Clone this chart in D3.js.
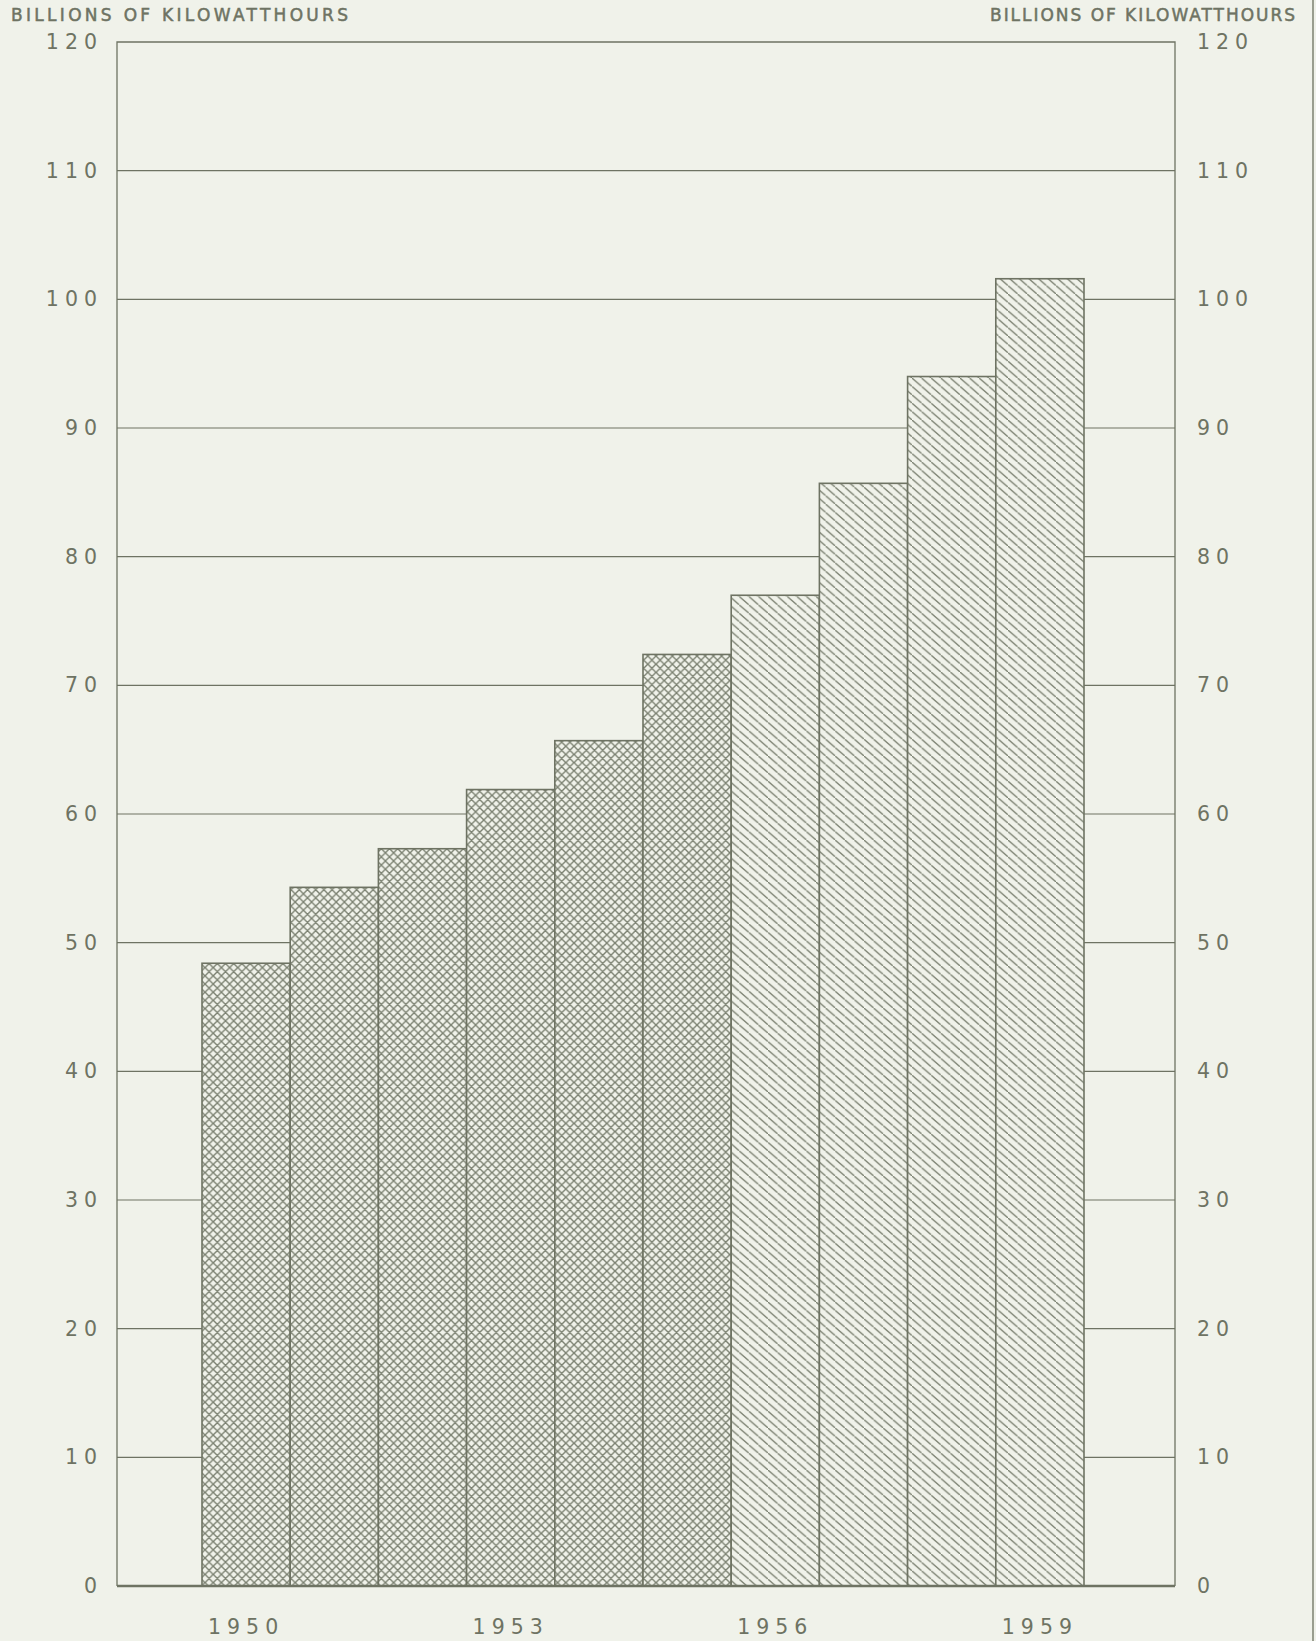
<!DOCTYPE html>
<html><head><meta charset="utf-8">
<script src="https://cdnjs.cloudflare.com/ajax/libs/d3/7.8.5/d3.min.js"></script>
<style>
body{margin:0;background:#f0f2ea;}
svg{display:block;}
</style></head><body>
<svg id="chart"></svg>
<script>
// billions of kWh by year; years after lastActual drawn with single hatch
var years=[1950,1951,1952,1953,1954,1955,1956,1957,1958,1959];
var values=[48.4,54.3,57.3,61.9,65.7,72.4,77.0,85.7,94.0,101.6];
var lastActual=1955;
var yTicks=[0,10,20,30,40,50,60,70,80,90,100,110,120];
var yearLabels=[1950,1953,1956,1959];
var unitLabel='BILLIONS OF KILOWATTHOURS';

var W=1316,H=1641,ink='#6e7363',hatch='#7a8070',bg='#f0f2ea';
var plot={left:117,right:1175,top:42,bottom:1586};
var svg=d3.select('#chart').attr('width',W).attr('height',H);
svg.append('rect').attr('width',W).attr('height',H).attr('fill',bg);

var x=d3.scaleBand().domain(years).range([202,1084]).padding(0);
var y=d3.scaleLinear().domain([0,120]).range([plot.bottom,plot.top]);

var defs=svg.append('defs');
// crosshatch, square cells
var c=8.2;
var p1=defs.append('pattern').attr('id','cross').attr('patternUnits','userSpaceOnUse')
   .attr('width',c).attr('height',c);
p1.append('rect').attr('width',c).attr('height',c).attr('fill',bg);
p1.append('path').attr('d',`M0,0L${c},${c}M-1,${c-1}L1,${c+1}M${c-1},-1L${c+1},1`+
   `M0,${c}L${c},0M-1,1L1,-1M${c-1},${c+1}L${c+1},${c-1}`)
   .attr('stroke',hatch).attr('stroke-width',1.35);
// single hatch, a little shallower than 45 degrees
var hw=9.6,hh=8.4;
var p2=defs.append('pattern').attr('id','single').attr('patternUnits','userSpaceOnUse')
   .attr('width',hw).attr('height',hh);
p2.append('rect').attr('width',hw).attr('height',hh).attr('fill',bg);
p2.append('path').attr('d',`M-${hw},-${hh}L${2*hw},${2*hh}`)
   .attr('stroke',hatch).attr('stroke-width',1.3);

// gridlines
svg.append('g').selectAll('line').data(yTicks.filter(d=>d>0&&d<120)).join('line')
   .attr('x1',plot.left).attr('x2',plot.right).attr('y1',d=>y(d)).attr('y2',d=>y(d))
   .attr('stroke',ink).attr('stroke-width',1.1);

// frame
svg.append('path').attr('d',`M${plot.left},${plot.bottom}V${plot.top}H${plot.right}V${plot.bottom}`)
   .attr('fill','none').attr('stroke',ink).attr('stroke-width',1.3);

// bars
svg.append('g').selectAll('rect').data(years).join('rect')
   .attr('x',d=>x(d)).attr('width',x.bandwidth())
   .attr('y',(d,i)=>y(values[i])).attr('height',(d,i)=>y(0)-y(values[i]))
   .attr('fill',d=>d<=lastActual?'url(#cross)':'url(#single)')
   .attr('stroke',ink).attr('stroke-width',1.6);

svg.append('line').attr('x1',plot.left).attr('x2',plot.right)
   .attr('y1',y(0)).attr('y2',y(0)).attr('stroke',ink).attr('stroke-width',2.6);

// tick labels
var font='"DejaVu Sans", sans-serif';
var left=svg.append('g').attr('transform',`translate(${plot.left},0)`)
   .call(d3.axisLeft(y).tickValues(yTicks).tickSize(0).tickPadding(14));
var right=svg.append('g').attr('transform',`translate(${plot.right},0)`)
   .call(d3.axisRight(y).tickValues(yTicks).tickSize(0).tickPadding(22));
[left,right].forEach(g=>{
  g.select('.domain').remove();
  g.selectAll('text').attr('font-family',font).attr('font-size',20.5)
   .attr('letter-spacing',6).attr('fill',ink);
});

svg.append('g').selectAll('text').data(yearLabels).join('text')
   .attr('x',d=>x(d)+x.bandwidth()/2).attr('y',1634)
   .attr('text-anchor','middle').attr('font-family',font).attr('font-size',20.5)
   .attr('letter-spacing',6).attr('fill',ink).text(d=>d);

// unit labels (hand lettered, so the two differ in width)
[[11,337],[990,305]].forEach(([tx,len])=>{
  svg.append('text').attr('x',tx).attr('y',21)
     .attr('font-family',font).attr('font-size',17)
     .attr('textLength',len).attr('lengthAdjust','spacing')
     .attr('fill',ink).attr('stroke',ink).attr('stroke-width',0.5).text(unitLabel);
});

svg.append('line').attr('x1',1313).attr('x2',1313).attr('y1',0).attr('y2',H)
   .attr('stroke','#9a9e90').attr('stroke-width',2);
</script>
</body></html>
